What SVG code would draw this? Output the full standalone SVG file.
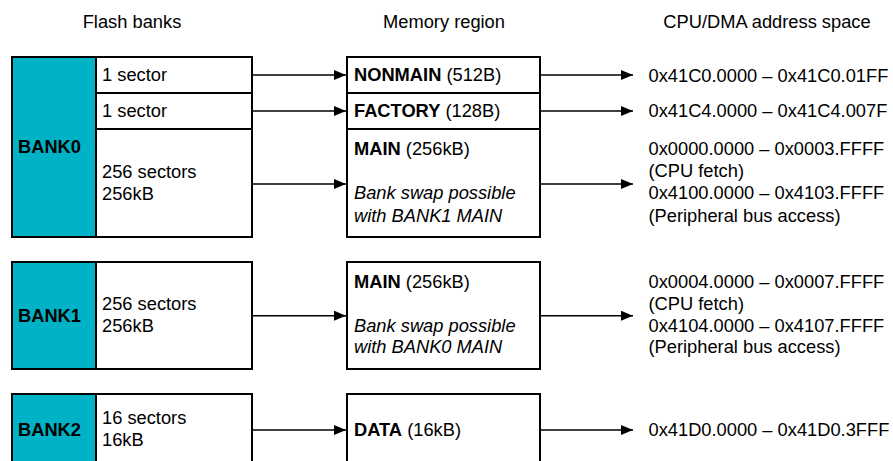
<svg xmlns="http://www.w3.org/2000/svg" width="893" height="461" viewBox="0 0 893 461">
<style>
text{font-family:"Liberation Sans",Arial,sans-serif;font-size:18.3px;fill:#000}
.b{font-weight:bold}
.i{font-style:italic}
.box{fill:#fff;stroke:#000;stroke-width:2}
.bank{fill:#00B2C5;stroke:#000;stroke-width:2}
.ln{stroke:#000;stroke-width:2;fill:none}
.c{stroke:#000;stroke-width:1.4;fill:none;marker-end:url(#ah)}
</style>
<defs>
<marker id="ah" markerUnits="userSpaceOnUse" markerWidth="13" markerHeight="11" refX="12" refY="5" orient="auto">
<path d="M0,0 L12,5 L0,10 z" fill="#000"/>
</marker>
</defs>
<g id="headers">
<text x="132" y="27.5" text-anchor="middle">Flash banks</text>
<text x="444" y="27.5" text-anchor="middle">Memory region</text>
<text x="767" y="27.5" text-anchor="middle">CPU/DMA address space</text>
</g>
<g id="bank0">
<rect class="box" x="12" y="57" width="240" height="180"/>
<rect class="bank" x="12" y="57" width="84" height="180"/>
<line class="ln" x1="96" y1="93" x2="252" y2="93"/>
<line class="ln" x1="96" y1="129" x2="252" y2="129"/>
<text class="b" x="18" y="152.5">BANK0</text>
<text x="102" y="80.7">1 sector</text>
<text x="102" y="116.5">1 sector</text>
<text x="102" y="177.5">256 sectors</text>
<text x="102" y="200">256kB</text>
</g>
<g id="bank1">
<rect class="box" x="12" y="262" width="240" height="107"/>
<rect class="bank" x="12" y="262" width="84" height="107"/>
<text class="b" x="18" y="321.7">BANK1</text>
<text x="102" y="310">256 sectors</text>
<text x="102" y="331.7">256kB</text>
</g>
<g id="bank2">
<rect class="box" x="12" y="394" width="240" height="80"/>
<rect class="bank" x="12" y="394" width="84" height="80"/>
<text class="b" x="18" y="435.7">BANK2</text>
<text x="102" y="424">16 sectors</text>
<text x="102" y="446">16kB</text>
</g>
<g id="region0">
<rect class="box" x="347" y="57" width="193" height="180"/>
<line class="ln" x1="347" y1="93" x2="540" y2="93"/>
<line class="ln" x1="347" y1="129" x2="540" y2="129"/>
<text x="354" y="80.7"><tspan class="b">NONMAIN</tspan> (512B)</text>
<text x="354" y="116.5"><tspan class="b">FACTORY</tspan> (128B)</text>
<text x="354" y="155"><tspan class="b">MAIN</tspan> (256kB)</text>
<text class="i" x="354" y="199.3">Bank swap possible</text>
<text class="i" x="354" y="221.7">with BANK1 MAIN</text>
</g>
<g id="region1">
<rect class="box" x="347" y="262" width="193" height="107"/>
<text x="354" y="287.7"><tspan class="b">MAIN</tspan> (256kB)</text>
<text class="i" x="354" y="331.7">Bank swap possible</text>
<text class="i" x="354" y="353.3">with BANK0 MAIN</text>
</g>
<g id="region2">
<rect class="box" x="347" y="394" width="193" height="80"/>
<text x="354" y="435.5"><tspan class="b">DATA</tspan> (16kB)</text>
</g>
<g id="addresses">
<text x="648.5" y="81.5">0x41C0.0000 – 0x41C0.01FF</text>
<text x="648.5" y="116.5">0x41C4.0000 – 0x41C4.007F</text>
<text x="648.5" y="155">0x0000.0000 – 0x0003.FFFF</text>
<text x="648.5" y="177.3">(CPU fetch)</text>
<text x="648.5" y="199.3">0x4100.0000 – 0x4103.FFFF</text>
<text x="648.5" y="221.7">(Peripheral bus access)</text>
<text x="648.5" y="287.7">0x0004.0000 – 0x0007.FFFF</text>
<text x="648.5" y="310">(CPU fetch)</text>
<text x="648.5" y="331.7">0x4104.0000 – 0x4107.FFFF</text>
<text x="648.5" y="353.3">(Peripheral bus access)</text>
<text x="648.5" y="435.7">0x41D0.0000 – 0x41D0.3FFF</text>
</g>
<g id="connectors">
<line class="c" x1="253" y1="75" x2="346" y2="75"/>
<line class="c" x1="253" y1="111" x2="346" y2="111"/>
<line class="c" x1="253" y1="184" x2="346" y2="184"/>
<line class="c" x1="253" y1="315.7" x2="346" y2="315.7"/>
<line class="c" x1="253" y1="430" x2="346" y2="430"/>
<line class="c" x1="541" y1="75" x2="633" y2="75"/>
<line class="c" x1="541" y1="111" x2="633" y2="111"/>
<line class="c" x1="541" y1="184" x2="633" y2="184"/>
<line class="c" x1="541" y1="315.7" x2="633" y2="315.7"/>
<line class="c" x1="541" y1="430" x2="633" y2="430"/>
</g>
</svg>
